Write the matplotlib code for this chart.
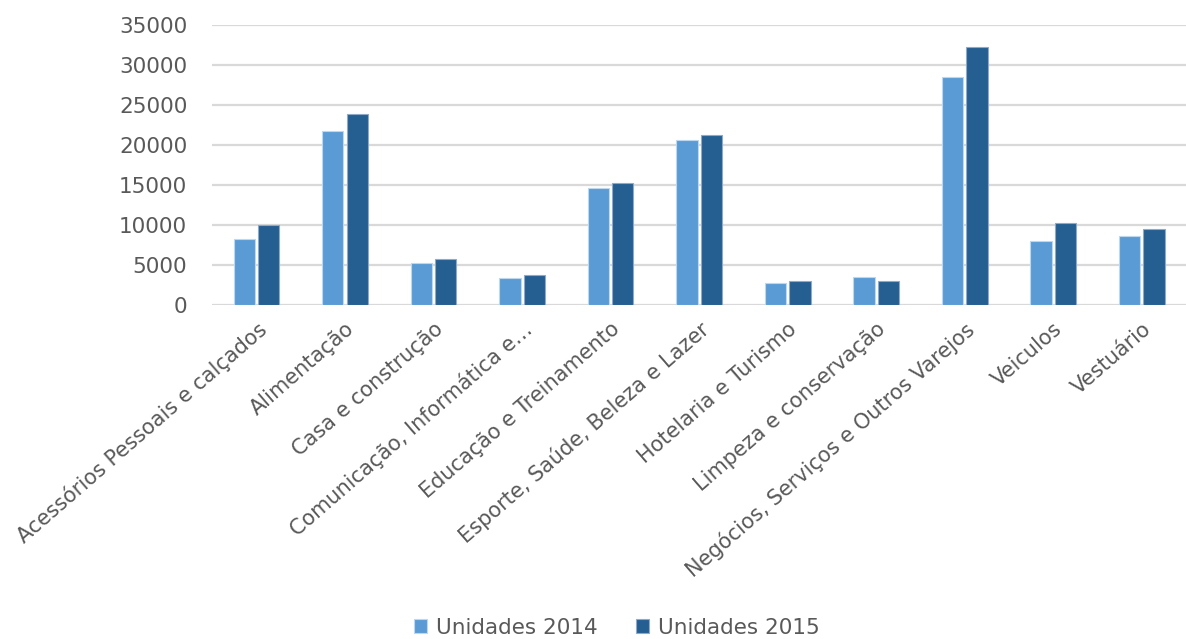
import matplotlib.pyplot as plt
import numpy as np

plt.rcParams['font.family'] = ['DejaVu Sans']

# dados
categorias = ['Acessórios Pessoais e calçados', 'Alimentação', 'Casa e construção',
              'Comunicação, Informática e…', 'Educação e Treinamento',
              'Esporte, Saúde, Beleza e Lazer', 'Hotelaria e Turismo',
              'Limpeza e conservação', 'Negócios, Serviços e Outros Varejos',
              'Veiculos', 'Vestuário']
unidades_2014 = [8200, 21700, 5250, 3290, 14630, 20580, 2670, 3460, 28460, 8040, 8660]
unidades_2015 = [10000, 23800, 5750, 3710, 15200, 21200, 2960, 2960, 32290, 10210, 9420]

cor_2014 = '#5B9BD5'
cor_2015 = '#255E91'
cinza = '#595959'

fig = plt.figure(figsize=(11.86, 6.39), dpi=100)
ax = fig.add_axes([0.179, 0.523, 0.821, 0.438])

x = np.arange(len(categorias))
ax.bar(x - 0.138, unidades_2014, width=0.24, color=cor_2014, edgecolor='#BDD7EE',
       linewidth=0.8, label='Unidades 2014', zorder=3)
ax.bar(x + 0.138, unidades_2015, width=0.24, color=cor_2015, edgecolor='#8FAAC8',
       linewidth=0.8, label='Unidades 2015', zorder=3)

ax.set_xlim(-0.5, len(categorias) - 0.5)
ax.set_ylim(0, 35000)
ax.set_yticks(range(0, 35001, 5000))

# grade horizontal
ax.grid(axis='y', color='#D9D9D9', linewidth=1.6, zorder=0)
for s in ax.spines.values():
    s.set_visible(False)

ax.tick_params(axis='y', length=0, pad=18, labelsize=15.5, labelcolor=cinza)
ax.tick_params(axis='x', length=0, pad=10, labelsize=15, labelcolor=cinza)
ax.set_xticks(x)
ax.set_xticklabels(categorias, rotation=41, ha='right', rotation_mode='anchor')

fig.legend(loc='lower center', bbox_to_anchor=(0.52, -0.028), ncol=2, frameon=False,
           fontsize=15.5, labelcolor=cinza, handlelength=0.6, handleheight=0.6,
           handletextpad=0.4, columnspacing=1.8)

plt.savefig('out.png', dpi=100)
